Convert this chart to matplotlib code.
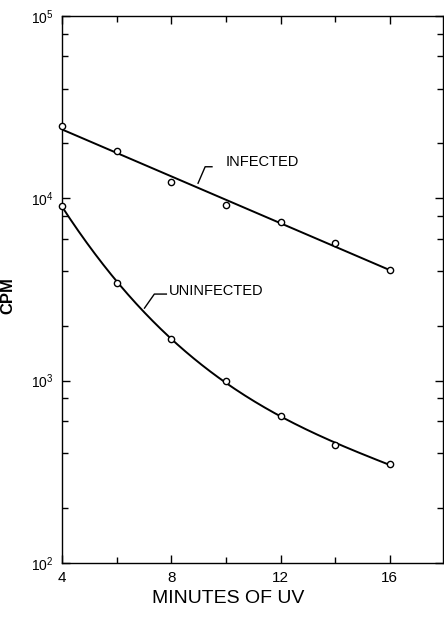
import numpy as np
import matplotlib.pyplot as plt
from matplotlib.ticker import LogLocator, FixedLocator, NullFormatter

# minutes of UV exposure
minutes = [4, 6, 8, 10, 12, 14, 16]
infected = [25000, 18200, 12300, 9200, 7400, 5700, 4050]
uninfected = [9100, 3430, 1690, 1000, 640, 444, 349]

x_ticks = [4, 8, 12, 16]

plt.rcParams['font.family'] = ['Liberation Sans', 'DejaVu Sans']

fig = plt.figure(figsize=(4.44, 6.19), dpi=100)
ax = fig.add_axes([62 / 444, 1 - 563 / 619, 1 - 62 / 444 - 0.002, (563 - 16) / 619])

# fitted curves (log scale)
xs = np.linspace(4, 16, 200)
p_inf = np.polyfit(minutes, np.log10(infected), 1)
p_uninf = np.polyfit(minutes, np.log10(uninfected), 3)
ax.plot(xs, 10 ** np.polyval(p_inf, xs), color='black', lw=1.4, zorder=2)
ax.plot(xs, 10 ** np.polyval(p_uninf, xs), color='black', lw=1.4, zorder=2)

ax.plot(minutes, infected, 'o', ms=4.5, mfc='white', mec='black', mew=1.0, zorder=3, clip_on=False)
ax.plot(minutes, uninfected, 'o', ms=4.5, mfc='white', mec='black', mew=1.0, zorder=3, clip_on=False)

ax.set_yscale('log')
ax.set_ylim(100, 100000)
ax.set_xlim(4, 17.95)

ax.xaxis.set_major_locator(FixedLocator(x_ticks))
ax.xaxis.set_minor_locator(FixedLocator([6, 10, 14, 18]))
ax.yaxis.set_major_locator(LogLocator(base=10, numticks=10))
ax.yaxis.set_minor_locator(LogLocator(base=10, subs=[2, 4, 6, 8], numticks=10))
ax.yaxis.set_minor_formatter(NullFormatter())

ax.tick_params(which='both', direction='in', top=True, right=True, width=1, color='black')
ax.tick_params(which='major', length=6, labelsize=10, pad=6)
ax.tick_params(which='minor', length=4)
ax.tick_params(axis='x', which='major', labelsize=11)

for s in ax.spines.values():
    s.set_linewidth(1.0)

ax.set_ylabel('CPM', fontsize=12, fontweight='bold')
ax.yaxis.set_label_coords(-47 / 382, (563 - 296) / 547)
ax.set_xlabel('MINUTES OF UV', fontsize=14)
ax.xaxis.set_label_coords((229 - 62) / 382, -27 / 547)

# labels with leader lines
ax.text(10.0, 15000, 'INFECTED', fontsize=10.5, va='baseline', ha='left')
ax.plot([8.98, 9.24, 9.49], [12100, 14900, 14900], color='black', lw=1.0)
ax.text(7.93, 2950, 'UNINFECTED', fontsize=10.5, va='baseline', ha='left')
ax.plot([7.02, 7.38, 7.82], [2500, 2985, 2985], color='black', lw=1.0)

fig.savefig('out.png', dpi=100)
